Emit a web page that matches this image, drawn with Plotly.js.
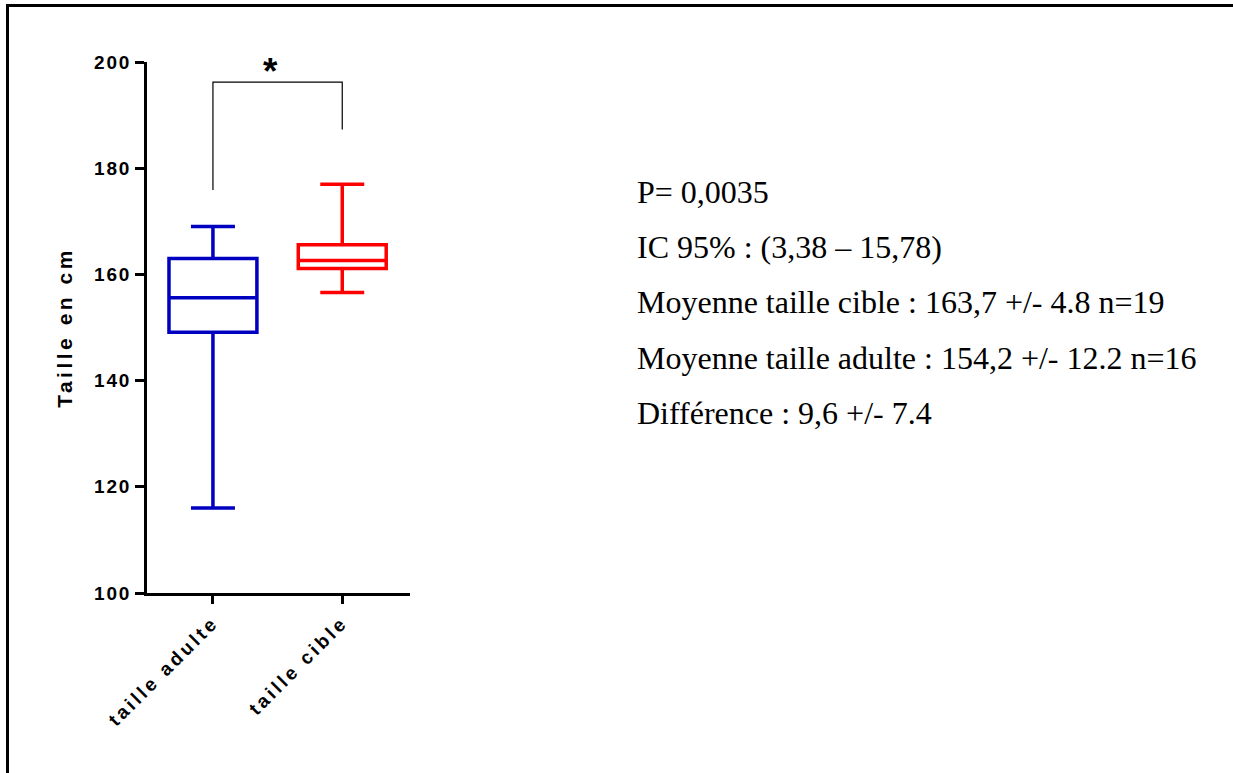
<!DOCTYPE html>
<html>
<head>
<meta charset="utf-8">
<script src="https://cdn.plot.ly/plotly-3.0.1.min.js"></script>
<style>
  html, body { margin: 0; padding: 0; background: #fff; }
  #wrap { position: relative; width: 1233px; height: 773px; overflow: hidden; }
  #chart { position: absolute; left: 0; top: 0; width: 1233px; height: 773px; }
  #frame { position: absolute; left: 6px; top: 4px; right: -10px; bottom: -10px;
           border-top: 3px solid #000; border-left: 3px solid #000; pointer-events: none; }
  .ytick text { letter-spacing: 1.8px; }
  .xtick text { letter-spacing: 3.2px; }
  .ytitle { letter-spacing: 3.5px; }
</style>
</head>
<body>
<div id="wrap">
  <div id="chart"></div>
  <div id="frame"></div>
</div>
<script>
// ---- data ----
const categories = ['taille adulte', 'taille cible'];
const lowerWhisker = [116.0, 156.6];
const q1Values = [149.1, 161.1];
const medianValues = [155.6, 162.6];
const q3Values = [163.0, 165.6];
const upperWhisker = [169.0, 177.0];
const seriesColors = ['#0000C0', '#FF0000'];

const yTickValues = [100, 120, 140, 160, 180, 200];
const yTickLabels = ['100', '120', '140', '160', '180', '200'];

// significance bracket (left foot, top, right foot)
const bracketX = [categories[0], categories[0], categories[1], categories[1]];
const bracketY = [175.9, 196.2, 196.2, 187.3];
const significanceLabel = '*';

const statLines = [
  'P= 0,0035',
  'IC 95% : (3,38 \u2013 15,78)',
  'Moyenne taille cible : 163,7 +/- 4.8 n=19',
  'Moyenne taille adulte : 154,2 +/- 12.2 n=16',
  'Diff\u00e9rence : 9,6 +/- 7.4'
];

// ---- layout geometry (pixels) ----
const W = 1233, H = 773;
const plotL = 147, plotR = 410, plotT = 62, plotB = 593;
const px2paperX = px => (px - plotL) / (plotR - plotL);
const px2paperY = py => (plotB - py) / (plotB - plotT);

const traces = categories.map((c, i) => ({
  type: 'box',
  x: [c],
  q1: [q1Values[i]],
  median: [medianValues[i]],
  q3: [q3Values[i]],
  lowerfence: [lowerWhisker[i]],
  upperfence: [upperWhisker[i]],
  boxpoints: false,
  width: 0.68,
  whiskerwidth: 0.5,
  line: { color: seriesColors[i], width: 3.5 },
  fillcolor: 'rgba(0,0,0,0)',
  hoverinfo: 'skip',
  showlegend: false
}));

traces.push({
  type: 'scatter',
  mode: 'lines',
  x: bracketX,
  y: bracketY,
  line: { color: '#000', width: 1.2 },
  hoverinfo: 'skip',
  showlegend: false,
  cliponaxis: false
});

const tickFont = { family: 'Liberation Sans, Arial, sans-serif', size: 19, color: '#000', weight: 'bold' };

const annotations = statLines.map((t, i) => ({
  xref: 'paper', yref: 'paper',
  x: px2paperX(635), y: px2paperY(192 + i * 55.2),
  xanchor: 'left', yanchor: 'middle',
  text: t, showarrow: false,
  font: { family: 'Liberation Serif, Times New Roman, serif', size: 32, color: '#000' }
}));

annotations.push({
  xref: 'x', yref: 'y',
  x: 0.445, y: 198.2,
  xanchor: 'center', yanchor: 'middle',
  text: significanceLabel, showarrow: false,
  font: { family: 'Liberation Sans, Arial, sans-serif', size: 37, color: '#000', weight: 'bold' }
});

const layout = {
  width: W, height: H,
  margin: { l: plotL, r: W - plotR, t: plotT, b: H - plotB, pad: 0 },
  paper_bgcolor: '#fff',
  plot_bgcolor: '#fff',
  showlegend: false,
  xaxis: {
    type: 'category',
    categoryorder: 'array',
    categoryarray: categories,
    range: [-0.51, 1.524],
    showgrid: false, zeroline: false,
    showline: true, linecolor: '#000', linewidth: 3,
    ticks: 'outside', ticklen: 8, tickwidth: 3, tickcolor: '#000',
    tickangle: -45,
    tickfont: tickFont,
    fixedrange: true
  },
  yaxis: {
    range: [100, 200],
    tickmode: 'array',
    tickvals: yTickValues,
    ticktext: yTickLabels,
    showgrid: false, zeroline: false,
    showline: true, linecolor: '#000', linewidth: 3,
    ticks: 'outside', ticklen: 9, tickwidth: 3, tickcolor: '#000',
    tickfont: tickFont,
    ticklabelstandoff: 0,
    title: { text: 'Taille en cm', standoff: 16,
             font: { family: 'Liberation Sans, Arial, sans-serif', size: 21, color: '#000', weight: 'bold' } },
    fixedrange: true
  },
  annotations: annotations
};

Plotly.newPlot('chart', traces, layout, { displayModeBar: false, staticPlot: true });
</script>
</body>
</html>
